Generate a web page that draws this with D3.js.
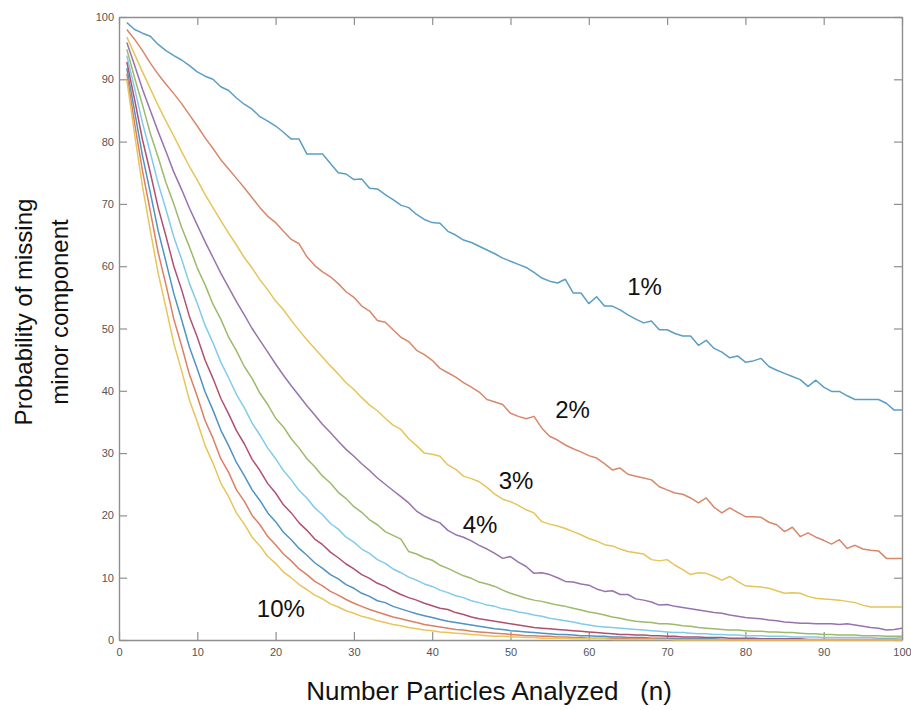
<!DOCTYPE html>
<html>
<head>
<meta charset="utf-8">
<script src="https://cdn.jsdelivr.net/npm/d3@7"></script>
<style>
  body { margin: 0; background: #fff; }
  text { font-family: "Liberation Sans", Arial, sans-serif; }
</style>
</head>
<body>
<div id="chart"></div>
<script>
// minor component share of each curve
var shares = ["1%", "2%", "3%", "4%", "5%", "6%", "7%", "8%", "9%", "10%"];

// probability of missing (%) for n = 1..100
var p1 = [99.1, 98.0, 97.4, 96.9, 95.6, 94.6, 93.8, 93.1, 92.2, 91.2,
  90.5, 90.0, 88.8, 88.2, 87.0, 86.0, 85.2, 84.0, 83.3, 82.5,
  81.5, 80.4, 80.4, 78.0, 78.0, 78.0, 76.5, 75.0, 74.8, 73.9,
  74.0, 72.5, 72.4, 71.5, 70.7, 69.8, 69.4, 68.3, 67.5, 67.0,
  66.9, 65.6, 65.0, 64.2, 63.8, 63.2, 62.6, 62.0, 61.3, 60.8,
  60.3, 59.8, 59.0, 58.1, 57.6, 57.3, 57.9, 55.7, 55.7, 54.0,
  55.1, 53.6, 53.6, 53.0, 52.2, 51.5, 50.9, 51.2, 49.8, 49.8,
  49.2, 48.8, 48.8, 47.3, 48.1, 46.8, 46.2, 45.3, 45.6, 44.6,
  44.8, 45.2, 43.9, 43.3, 42.8, 42.3, 41.8, 40.7, 41.7, 40.6,
  39.9, 39.9, 39.2, 38.6, 38.6, 38.6, 38.6, 38.0, 36.9, 36.9];
var p2 = [98.0, 96.4, 94.6, 92.6, 90.8, 89.2, 87.7, 86.1, 84.3, 82.5,
  80.6, 78.9, 77.1, 75.6, 74.1, 72.6, 71.0, 69.4, 68.0, 67.0,
  65.6, 64.3, 63.6, 61.5, 60.1, 59.1, 58.3, 57.2, 55.9, 55.0,
  53.6, 52.8, 51.3, 51.0, 49.8, 48.6, 47.9, 46.5, 45.8, 44.9,
  43.6, 42.9, 42.2, 41.3, 40.6, 39.8, 38.6, 38.2, 37.8, 36.4,
  35.9, 35.5, 35.9, 34.0, 32.7, 32.1, 31.3, 30.7, 30.2, 29.6,
  29.2, 28.3, 27.3, 27.6, 26.6, 26.3, 26.0, 25.7, 24.6, 24.1,
  23.6, 23.4, 22.8, 22.0, 22.8, 21.3, 20.4, 21.2, 20.5, 19.8,
  19.8, 19.7, 18.9, 18.5, 17.4, 18.1, 16.6, 17.2, 16.5, 16.0,
  15.4, 16.1, 14.7, 15.2, 14.6, 14.4, 14.3, 13.1, 13.1, 13.1];
var p3 = [96.8, 94.0, 91.2, 88.5, 85.8, 83.3, 80.9, 78.4, 76.0, 73.8,
  71.5, 69.4, 67.3, 65.3, 63.4, 61.4, 59.7, 57.8, 56.2, 54.4,
  53.0, 51.3, 49.7, 48.2, 46.8, 45.4, 44.0, 42.7, 41.3, 40.2,
  38.9, 37.7, 36.8, 35.6, 34.5, 33.8, 32.3, 31.2, 30.0, 29.8,
  29.5, 28.1, 27.4, 26.3, 25.9, 25.4, 24.5, 23.4, 22.6, 22.2,
  21.6, 20.9, 20.4, 19.0, 18.6, 18.3, 17.9, 17.4, 16.9, 16.3,
  15.9, 15.3, 15.1, 14.6, 14.2, 14.0, 13.8, 12.9, 12.7, 12.9,
  12.0, 11.3, 10.5, 10.8, 10.7, 10.2, 9.6, 10.2, 9.4, 8.7,
  8.6, 8.5, 8.3, 7.9, 7.5, 7.6, 7.5, 7.0, 6.7, 6.6,
  6.5, 6.4, 6.2, 6.0, 5.6, 5.3, 5.3, 5.3, 5.3, 5.3];
var p4 = [95.9, 92.2, 88.4, 85.0, 81.6, 78.4, 75.1, 72.3, 69.3, 66.6,
  63.9, 61.4, 58.9, 56.6, 54.3, 52.2, 50.0, 48.1, 46.2, 44.3,
  42.5, 40.8, 39.2, 37.6, 36.1, 34.6, 33.3, 31.9, 30.6, 29.5,
  28.3, 27.2, 26.0, 25.0, 24.0, 23.0, 22.0, 20.7, 19.9, 19.3,
  18.8, 17.6, 16.9, 16.5, 15.9, 15.2, 14.6, 13.9, 13.1, 13.4,
  12.5, 11.8, 10.7, 10.8, 10.5, 10.0, 9.4, 9.3, 9.0, 8.8,
  8.2, 7.8, 7.9, 7.3, 7.3, 6.6, 6.4, 6.1, 5.6, 5.7,
  5.4, 5.2, 5.0, 4.8, 4.6, 4.4, 4.3, 4.0, 3.8, 3.6,
  3.5, 3.4, 3.2, 3.1, 2.9, 2.8, 2.7, 2.7, 2.6, 2.6,
  2.6, 2.5, 2.6, 2.4, 2.2, 2.0, 1.9, 1.6, 1.7, 1.9];
var p5 = [94.8, 90.2, 85.9, 81.3, 77.5, 73.4, 70.0, 66.2, 63.1, 59.7,
  57.0, 53.9, 51.5, 48.6, 46.4, 43.9, 42.0, 39.6, 37.8, 35.6,
  34.2, 32.3, 30.8, 29.1, 27.8, 26.3, 25.2, 23.7, 22.7, 21.4,
  20.5, 19.3, 18.5, 17.4, 16.8, 16.2, 14.2, 13.8, 13.2, 12.8,
  12.0, 11.5, 10.9, 10.3, 9.9, 9.3, 9.0, 8.6, 8.0, 7.5,
  7.1, 6.7, 6.4, 6.2, 5.9, 5.6, 5.4, 5.1, 4.8, 4.5,
  4.3, 4.0, 3.7, 3.5, 3.2, 3.0, 2.9, 2.8, 2.6, 2.6,
  2.5, 2.3, 2.2, 2.0, 1.9, 1.8, 1.7, 1.6, 1.6, 1.5,
  1.4, 1.4, 1.3, 1.3, 1.2, 1.2, 1.1, 1.0, 1.0, 0.9,
  0.9, 0.8, 0.8, 0.8, 0.7, 0.7, 0.7, 0.6, 0.6, 0.6];
var p6 = [93.8, 88.5, 83.0, 78.2, 73.3, 69.1, 64.7, 61.1, 57.2, 54.0,
  50.5, 47.7, 44.6, 42.1, 39.4, 37.3, 34.8, 32.9, 30.8, 29.1,
  27.2, 25.7, 24.0, 22.8, 21.2, 20.1, 18.7, 17.8, 16.5, 15.7,
  14.6, 13.9, 12.9, 12.3, 11.4, 10.8, 10.1, 9.6, 9.0, 8.6,
  8.0, 7.6, 7.1, 6.8, 6.3, 6.0, 5.6, 5.4, 5.0, 4.8,
  4.5, 4.3, 4.0, 3.8, 3.5, 3.3, 3.1, 2.9, 2.6, 2.4,
  2.2, 2.1, 2.0, 1.9, 1.8, 1.7, 1.6, 1.5, 1.4, 1.3,
  1.2, 1.2, 1.1, 1.0, 1.0, 0.9, 0.9, 0.8, 0.8, 0.7,
  0.7, 0.7, 0.6, 0.6, 0.6, 0.5, 0.5, 0.5, 0.5, 0.4,
  0.4, 0.4, 0.4, 0.4, 0.4, 0.4, 0.3, 0.3, 0.3, 0.4];
var p7 = [92.8, 86.7, 80.3, 75.0, 69.4, 64.8, 60.0, 56.2, 51.9, 48.6,
  44.9, 42.0, 38.8, 36.3, 33.6, 31.5, 29.0, 27.2, 25.1, 23.6,
  21.7, 20.4, 18.8, 17.6, 16.2, 15.3, 14.1, 13.2, 12.2, 11.4,
  10.5, 9.9, 9.1, 8.6, 7.9, 7.3, 6.8, 6.4, 5.9, 5.5,
  5.1, 4.9, 4.4, 4.1, 3.7, 3.4, 3.2, 3.0, 2.8, 2.6,
  2.4, 2.2, 2.0, 1.9, 1.8, 1.7, 1.6, 1.5, 1.4, 1.3,
  1.2, 1.1, 1.0, 0.9, 0.9, 0.8, 0.8, 0.7, 0.7, 0.6,
  0.6, 0.5, 0.5, 0.5, 0.4, 0.4, 0.4, 0.3, 0.3, 0.3,
  0.3, 0.2, 0.2, 0.2, 0.2, 0.2, 0.2, 0.1, 0.1, 0.1,
  0.1, 0.1, 0.1, 0.1, 0.1, 0.1, 0.1, 0.1, 0.1, 0.1];
var p8 = [91.8, 84.8, 77.7, 71.8, 65.7, 60.7, 55.6, 51.4, 47.0, 43.5,
  39.8, 36.9, 33.7, 31.2, 28.5, 26.4, 24.1, 22.4, 20.4, 19.0,
  17.3, 16.1, 14.7, 13.6, 12.4, 11.5, 10.5, 9.8, 8.9, 8.3,
  7.5, 7.0, 6.3, 6.0, 5.4, 5.0, 4.6, 4.2, 3.9, 3.6,
  3.3, 3.0, 2.8, 2.6, 2.4, 2.2, 2.0, 1.8, 1.7, 1.5,
  1.4, 1.3, 1.2, 1.1, 1.0, 0.9, 0.9, 0.8, 0.7, 0.7,
  0.6, 0.6, 0.5, 0.5, 0.4, 0.4, 0.4, 0.3, 0.3, 0.3,
  0.3, 0.2, 0.2, 0.2, 0.2, 0.2, 0.1, 0.1, 0.1, 0.1,
  0.1, 0.1, 0.1, 0.1, 0.1, 0.1, 0.1, 0.0, 0.0, 0.0,
  0.0, 0.0, 0.0, 0.0, 0.0, 0.0, 0.0, 0.0, 0.0, 0.0];
var p9 = [90.9, 82.9, 75.3, 68.8, 62.2, 57.0, 51.5, 47.2, 42.6, 39.1,
  35.2, 32.4, 29.1, 26.9, 24.1, 22.3, 20.0, 18.5, 16.6, 15.3,
  13.8, 12.7, 11.4, 10.5, 9.4, 8.7, 7.8, 7.2, 6.5, 5.9,
  5.4, 4.9, 4.5, 4.1, 3.7, 3.4, 3.1, 2.8, 2.5, 2.3,
  2.1, 1.9, 1.7, 1.6, 1.4, 1.3, 1.2, 1.1, 1.0, 0.9,
  0.8, 0.7, 0.7, 0.6, 0.6, 0.5, 0.5, 0.4, 0.4, 0.3,
  0.3, 0.3, 0.3, 0.2, 0.2, 0.2, 0.2, 0.2, 0.1, 0.1,
  0.1, 0.1, 0.1, 0.1, 0.1, 0.1, 0.1, 0.0, 0.0, 0.0,
  0.0, 0.0, 0.0, 0.0, 0.0, 0.0, 0.0, 0.0, 0.0, 0.0,
  0.0, 0.0, 0.0, 0.0, 0.0, 0.0, 0.0, 0.0, 0.0, 0.0];
var p10 = [89.9, 81.1, 72.8, 65.7, 58.9, 53.3, 47.6, 43.2, 38.5, 35.0,
  31.2, 28.4, 25.2, 23.0, 20.4, 18.6, 16.5, 15.1, 13.4, 12.3,
  10.9, 10.0, 8.9, 8.1, 7.2, 6.6, 5.8, 5.3, 4.7, 4.3,
  3.8, 3.5, 3.1, 2.8, 2.5, 2.3, 2.0, 1.8, 1.6, 1.5,
  1.3, 1.2, 1.1, 1.0, 0.9, 0.8, 0.7, 0.6, 0.6, 0.5,
  0.5, 0.4, 0.4, 0.3, 0.3, 0.3, 0.3, 0.2, 0.2, 0.2,
  0.2, 0.2, 0.1, 0.1, 0.1, 0.1, 0.1, 0.1, 0.1, 0.1,
  0.0, 0.0, 0.0, 0.0, 0.0, 0.0, 0.0, 0.0, 0.0, 0.0,
  0.0, 0.0, 0.0, 0.0, 0.0, 0.0, 0.0, 0.0, 0.0, 0.0,
  0.0, 0.0, 0.0, 0.0, 0.0, 0.0, 0.0, 0.0, 0.0, 0.0];

var series = [p1, p2, p3, p4, p5, p6, p7, p8, p9, p10];

// tick values
var xTicks = [0, 10, 20, 30, 40, 50, 60, 70, 80, 90, 100];
var yTicks = [0, 10, 20, 30, 40, 50, 60, 70, 80, 90, 100];

// curve labels placed in data units [n, probability]
var curveLabels = [
  {text: "1%", n: 64.9, v: 55.4},
  {text: "2%", n: 55.7, v: 35.6},
  {text: "3%", n: 48.5, v: 24.2},
  {text: "4%", n: 43.9, v: 17.2},
  {text: "10%", n: 17.6, v: 3.7}
];

// faded matlab line order
var colors = ["#5a9ec6", "#d8876a", "#e6c458", "#9873ad", "#9dba6a",
  "#80cbe9", "#b0506f", "#4f93c2", "#dc7f62", "#e8c45a"];

var margin = {top: 17, right: 9, bottom: 70, left: 119},
  width = 911 - margin.left - margin.right,
  height = 710 - margin.top - margin.bottom;

var svg = d3.select("#chart")
.append("svg")
  .attr("width", 911)
  .attr("height", 710)
.append("g")
  .attr("transform", "translate(" + margin.left + "," + margin.top + ")");

var x = d3.scaleLinear().domain([0, 100]).range([0, width]);
var y = d3.scaleLinear().domain([0, 100]).range([height, 0]);

var axisColor = "#8f8f8f";

function styleAxis(g) {
  g.selectAll("path").attr("stroke", axisColor).attr("stroke-width", 1.4);
  g.selectAll("line").attr("stroke", axisColor).attr("stroke-width", 1.2);
  g.selectAll("text")
    .attr("fill", "#555")
    .style("font-size", "11px")
    .style("font-family", "'Liberation Sans', Arial, sans-serif");
}

// ticks point inward on all four sides
svg.append("g")
  .attr("transform", "translate(0," + height + ")")
  .call(d3.axisBottom(x).tickValues(xTicks).tickSizeInner(-8).tickSizeOuter(0).tickPadding(8))
  .call(styleAxis);

svg.append("g")
  .call(d3.axisLeft(y).tickValues(yTicks).tickSizeInner(-8).tickSizeOuter(0).tickPadding(5))
  .call(styleAxis);

svg.append("g")
  .call(d3.axisTop(x).tickValues(xTicks).tickSizeInner(-8).tickSizeOuter(0).tickFormat(""))
  .call(styleAxis);

svg.append("g")
  .attr("transform", "translate(" + width + ",0)")
  .call(d3.axisRight(y).tickValues(yTicks).tickSizeInner(-8).tickSizeOuter(0).tickFormat(""))
  .call(styleAxis);

var line = d3.line()
  .x(function(d, i) { return x(i + 1); })
  .y(function(d) { return y(d); });

svg.selectAll(".curve")
  .data(series)
  .enter()
  .append("path")
    .attr("class", "curve")
    .attr("d", line)
    .attr("fill", "none")
    .attr("stroke", function(d, i) { return colors[i]; })
    .attr("stroke-width", 1.5)
    .attr("stroke-linejoin", "round");

svg.selectAll(".curve-label")
  .data(curveLabels)
  .enter()
  .append("text")
    .attr("class", "curve-label")
    .attr("x", function(d) { return x(d.n); })
    .attr("y", function(d) { return y(d.v); })
    .text(function(d) { return d.text; })
    .style("font-size", "24px")
    .attr("fill", "#111");

// axis titles
svg.append("text")
  .attr("x", 489 - margin.left)
  .attr("y", 700 - margin.top)
  .attr("text-anchor", "middle")
  .style("font-size", "26px")
  .style("white-space", "pre")
  .attr("fill", "#111")
  .text("Number Particles Analyzed   (n)");

var yTitle = svg.append("g")
  .attr("transform", "translate(" + (42 - margin.left) + "," + (312 - margin.top) + ") rotate(-90)");

yTitle.append("text")
  .attr("text-anchor", "middle")
  .attr("y", -18)
  .attr("dy", "0.35em")
  .style("font-size", "24px")
  .attr("fill", "#111")
  .text("Probability of missing");

yTitle.append("text")
  .attr("text-anchor", "middle")
  .attr("y", 18)
  .attr("dy", "0.35em")
  .style("font-size", "24px")
  .attr("fill", "#111")
  .text("minor component");
</script>
</body>
</html>
